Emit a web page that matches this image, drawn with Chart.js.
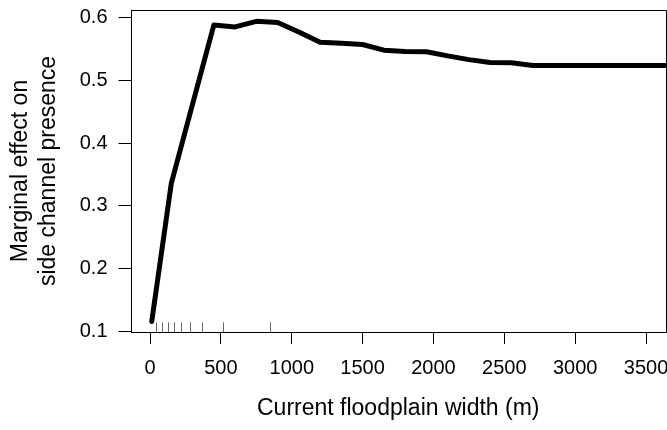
<!DOCTYPE html>
<html>
<head>
<meta charset="utf-8">
<script src="https://cdn.jsdelivr.net/npm/chart.js@4/dist/chart.umd.min.js"></script>
<style>
  html, body { margin: 0; padding: 0; background: #fff; }
  #wrap { width: 667px; height: 430px; }
</style>
</head>
<body>
<div id="wrap"><canvas id="effectChart" width="667" height="430"></canvas></div>
<script>
// partial dependence of side channel presence on floodplain width
const widthM = [12, 150, 300, 450, 600, 750, 900, 1050, 1200, 1350, 1500, 1650, 1800, 1950, 2100, 2250, 2400, 2550, 2700, 2850, 3000, 3150, 3300, 3450, 3600, 3750];
const effect = [0.116, 0.336, 0.462, 0.588, 0.585, 0.594, 0.592, 0.577, 0.5605, 0.559, 0.557, 0.548, 0.546, 0.5455, 0.539, 0.533, 0.5285, 0.528, 0.5235, 0.5235, 0.5235, 0.5235, 0.5235, 0.5235, 0.5235, 0.5235];

// observed widths (rug along the bottom)
const rugM = [42, 83, 125, 171, 219, 284, 370, 515, 845];

const xTicks = [0, 500, 1000, 1500, 2000, 2500, 3000, 3500];
const yTicks = [0.1, 0.2, 0.3, 0.4, 0.5, 0.6];

const FONT = "'Liberation Sans', Arial, sans-serif";

// box around the plot + rug ticks
const boxAndRug = {
    id: 'boxAndRug',
    afterDatasetsDraw(chart) {
        const ctx = chart.ctx;
        const a = chart.chartArea;
        const xs = chart.scales.x;
        ctx.save();
        ctx.strokeStyle = '#666';
        ctx.lineWidth = 1;
        rugM.forEach(v => {
            const px = Math.round(xs.getPixelForValue(v)) + 0.5;
            ctx.beginPath();
            ctx.moveTo(px, a.bottom);
            ctx.lineTo(px, a.bottom - 0.03 * (a.bottom - a.top));
            ctx.stroke();
        });
        ctx.strokeStyle = '#000';
        ctx.strokeRect(Math.round(a.left) + 0.5, Math.round(a.top) + 0.5,
            Math.round(a.right - a.left) - 1, Math.round(a.bottom - a.top));
        ctx.restore();
    }
};

const ctx = document.getElementById("effectChart").getContext("2d");
new Chart(ctx, {
    type: 'line',
    data: {
        datasets: [{
            data: widthM.map((w, i) => ({ x: w, y: effect[i] })),
            borderColor: '#000',
            borderWidth: 5,
            borderJoinStyle: 'round',
            borderCapStyle: 'round',
            pointRadius: 0,
            fill: false,
            tension: 0,
            clip: 0
        }]
    },
    options: {
        responsive: false,
        animation: false,
        layout: { padding: { left: 0, right: 1, top: 10, bottom: 0 } },
        plugins: { legend: { display: false }, tooltip: { enabled: false } },
        scales: {
            x: {
                type: 'linear',
                min: -138,
                max: 3641,
                afterBuildTicks: s => { s.ticks = xTicks.map(v => ({ value: v })); },
                afterFit: s => { s.height = 98; s.paddingLeft = 0; s.paddingRight = 0; },
                grid: { display: true, drawOnChartArea: false, drawTicks: true, tickLength: 12, color: '#000', tickColor: '#000' },
                border: { display: false },
                ticks: { color: '#000', font: { family: FONT, size: 20 }, padding: 12, maxRotation: 0, callback: v => String(v) },
                title: {
                    display: true,
                    text: 'Current floodplain width (m)',
                    color: '#000',
                    font: { family: FONT, size: 23 },
                    padding: { top: 0, bottom: 8 }
                }
            },
            y: {
                min: 0.0992,
                max: 0.612,
                afterBuildTicks: s => { s.ticks = yTicks.map(v => ({ value: v })); },
                afterFit: s => { s.width = 130.5; s.paddingTop = 0; s.paddingBottom = 0; },
                grid: { display: true, drawOnChartArea: false, drawTicks: true, tickLength: 12, color: '#000', tickColor: '#000' },
                border: { display: false },
                ticks: { color: '#000', font: { family: FONT, size: 20 }, padding: 11, callback: v => v.toFixed(1) },
                title: {
                    display: true,
                    text: ['Marginal effect on', 'side channel presence'],
                    color: '#000',
                    font: { family: FONT, size: 23, lineHeight: 1.2 },
                    padding: { top: 7, bottom: 0 }
                }
            }
        }
    },
    plugins: [boxAndRug]
});
</script>
</body>
</html>
